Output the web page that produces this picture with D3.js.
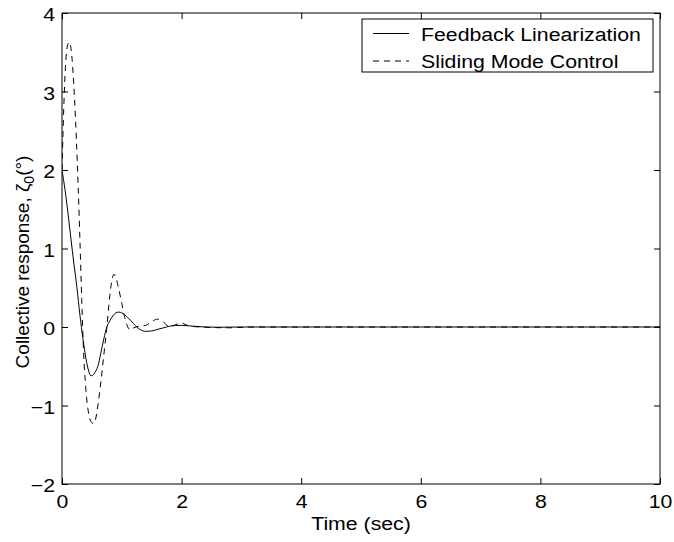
<!DOCTYPE html>
<html>
<head>
<meta charset="utf-8">
<script src="https://cdn.jsdelivr.net/npm/d3@7"></script>
<style>
  body { margin: 0; background: #fff; }
  svg { display: block; font-family: "Liberation Sans", Arial, sans-serif; }
</style>
</head>
<body>
<script>
// time samples (sec) and responses
const flTime = [0, 0.05, 0.1, 0.15, 0.2, 0.25, 0.3, 0.35, 0.4, 0.45, 0.48, 0.5, 0.55, 0.6, 0.65, 0.7, 0.75, 0.8, 0.85, 0.9, 0.95, 1.0, 1.1, 1.2, 1.25, 1.3, 1.4, 1.5, 1.6, 1.7, 1.8, 1.9, 2.0, 2.2, 2.4, 2.6, 3.0, 10]
const flValue = [2.0, 1.75, 1.45, 1.12, 0.8, 0.5, 0.15, -0.15, -0.4, -0.57, -0.62, -0.62, -0.58, -0.5, -0.33, -0.15, 0.0, 0.08, 0.14, 0.18, 0.19, 0.18, 0.12, 0.04, 0.0, -0.03, -0.055, -0.05, -0.03, -0.01, 0.01, 0.02, 0.02, 0.01, 0.0, -0.003, 0, 0]

const smcTime = [0, 0.03, 0.06, 0.09, 0.12, 0.15, 0.18, 0.21, 0.24, 0.27, 0.3, 0.33, 0.36, 0.4, 0.45, 0.5, 0.53, 0.56, 0.6, 0.65, 0.7, 0.75, 0.8, 0.84, 0.87, 0.9, 0.95, 1.0, 1.05, 1.1, 1.15, 1.2, 1.3, 1.4, 1.5, 1.6, 1.7, 1.8, 1.9, 2.0, 2.1, 2.3, 2.8, 3.2, 10]
const smcValue = [2.0, 2.8, 3.35, 3.58, 3.63, 3.55, 3.3, 2.9, 2.4, 1.8, 1.1, 0.35, -0.3, -0.8, -1.12, -1.22, -1.23, -1.18, -1.0, -0.7, -0.35, 0.0, 0.4, 0.62, 0.67, 0.63, 0.48, 0.3, 0.12, 0.0, -0.04, -0.01, 0.01, 0.02, 0.07, 0.1, 0.06, 0.0, 0.03, 0.05, 0.02, 0.0, -0.01, 0, 0]

const xTicks = [0, 2, 4, 6, 8, 10]
const yTicks = [-2, -1, 0, 1, 2, 3, 4]
const seriesNames = ['Feedback Linearization', 'Sliding Mode Control']

const W = 674, H = 542
const pLeft = 62, pRight = 660, pTop = 13, pBottom = 484
const fontSize = '19px', stretch = 1.12

const svg = d3.select('body').append('svg')
  .attr('width', W).attr('height', H)

const x = d3.scaleLinear().domain([0, 10]).range([pLeft, pRight])
const y = d3.scaleLinear().domain([-2, 4]).range([pBottom, pTop])

const line = d3.line().x(d => x(d[0])).y(d => y(d[1])).curve(d3.curveMonotoneX)

const series = [
  { name: seriesNames[0], pts: d3.zip(flTime, flValue), dash: null },
  { name: seriesNames[1], pts: d3.zip(smcTime, smcValue), dash: '6,5' }
]

// the original figure is a bit wider than tall, so text is stretched sideways around its anchor
const widen = sel => sel.each(function() {
  const t = d3.select(this), ax = +t.attr('x') || 0
  t.attr('transform', `translate(${ax * (1 - stretch)},0) scale(${stretch},1)`)
})

svg.append('defs').append('clipPath').attr('id', 'clip')
  .append('rect').attr('x', pLeft).attr('y', pTop).attr('width', pRight - pLeft).attr('height', pBottom - pTop)

svg.append('g').attr('clip-path', 'url(#clip)')
  .selectAll('path').data(series).enter().append('path')
  .attr('d', d => line(d.pts))
  .attr('fill', 'none')
  .attr('stroke', '#000')
  .attr('stroke-width', 1)
  .attr('stroke-dasharray', d => d.dash)

// axes with inward ticks on all four sides
const fmt = d => d < 0 ? '\u2212' + Math.abs(d) : String(d)
const tickLen = 6

const bottomAxis = d3.axisBottom(x).tickValues(xTicks).tickSize(-tickLen).tickPadding(11).tickFormat(fmt)
const topAxis = d3.axisTop(x).tickValues(xTicks).tickSize(-tickLen).tickFormat('')
const leftAxis = d3.axisLeft(y).tickValues(yTicks).tickSize(-tickLen).tickPadding(7).tickFormat(fmt)
const rightAxis = d3.axisRight(y).tickValues(yTicks).tickSize(-tickLen).tickFormat('')

const styleAxis = g => {
  g.selectAll('line').attr('stroke', '#000')
  g.selectAll('text').attr('fill', '#000').style('font-size', fontSize).call(widen)
  g.attr('font-family', null)
}

svg.append('g').attr('transform', `translate(0,${pBottom})`).call(bottomAxis).call(styleAxis)
svg.append('g').attr('transform', `translate(0,${pTop})`).call(topAxis).call(styleAxis)
svg.append('g').attr('transform', `translate(${pLeft},0)`).call(leftAxis).call(styleAxis)
  .selectAll('text').attr('dy', '0.42em')
svg.append('g').attr('transform', `translate(${pRight},0)`).call(rightAxis).call(styleAxis)
svg.selectAll('.domain').remove()
svg.append('rect').attr('x', pLeft).attr('y', pTop).attr('width', pRight - pLeft).attr('height', pBottom - pTop)
  .attr('fill', 'none').attr('stroke', '#000').attr('stroke-width', 1)

// axis labels
svg.append('text')
  .attr('x', (pLeft + pRight) / 2).attr('y', 530)
  .attr('text-anchor', 'middle')
  .style('font-size', fontSize)
  .text('Time (sec)')
  .call(widen)

const yl = svg.append('text')
  .attr('transform', `translate(29,262) rotate(-90)`)
  .attr('text-anchor', 'middle')
  .style('font-size', fontSize)
yl.append('tspan').text('Collective response,  \u03B6')
yl.append('tspan').attr('dy', 5).style('font-size', '14px').text('0')
yl.append('tspan').attr('dy', -5).text('(\u00B0)')

// legend
const lg = svg.append('g')
lg.append('rect').attr('x', 362).attr('y', 19).attr('width', 291).attr('height', 53)
  .attr('fill', '#fff').attr('stroke', '#000').attr('stroke-width', 1)
const rows = lg.selectAll('.row').data(series).enter().append('g')
  .attr('transform', (d, i) => `translate(0,${33.5 + i * 27.5})`)
rows.append('line').attr('x1', 373).attr('x2', 409).attr('y1', 0).attr('y2', 0)
  .attr('stroke', '#000').attr('stroke-dasharray', d => d.dash)
rows.append('text').attr('x', 421).attr('y', 7).style('font-size', fontSize).text(d => d.name)
  .call(widen)
</script>
</body>
</html>
